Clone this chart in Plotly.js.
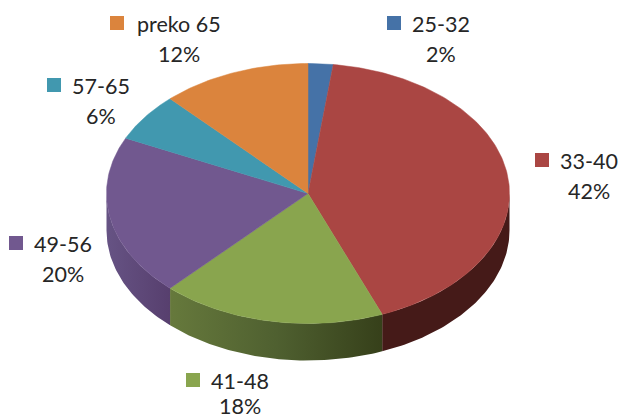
<!DOCTYPE html>
<html>
<head>
<meta charset="utf-8">
<script src="https://cdn.plot.ly/plotly-3.0.1.min.js"></script>
<style>html,body{margin:0;padding:0;background:#fff}#chart{width:620px;height:420px}</style>
</head>
<body>
<div id="chart"></div>
<script>
// Data
const categories = ['25-32', '33-40', '41-48', '49-56', '57-65', 'preko 65'];
const shares = [2, 42, 18, 20, 6, 12];

// Styles
const topColors = ['#4572a7', '#aa4643', '#89a54e', '#71588f', '#4198af', '#db843d'];
const wallScales = [
  null,
  [[0, '#451a18'], [1, '#451a18']],
  [[0, '#66793c'], [0.5, '#4f6030'], [1, '#36401a']],
  [[0, '#665384'], [1, '#573f6e']],
  null, null
];
const textColor = '#262626';
const W = 620, H = 420, CX = 308, CY = 193.5, RX = 201.5, RY = 130, DEPTH = 37;
// [text centre x, first-line y, swatch left x, line gap]
const labelPlaces = [
  [441, 24, 387, 30], [589, 161, 535, 30], [240, 381, 186, 25],
  [63, 244, 9, 30], [101, 86, 47, 30], [179, 24, 110, 30]
];

// Slices are measured clockwise from 12 o'clock in a unit-circle data space
const total = shares.reduce((a, b) => a + b, 0);
const rad = d => d * Math.PI / 180;
function arc(from, to) {
  const pts = [];
  const n = Math.max(2, Math.ceil(Math.abs(to - from)));
  for (let i = 0; i <= n; i++) {
    const a = rad(from + (to - from) * i / n);
    pts.push([Math.sin(a), Math.cos(a)]);
  }
  return pts;
}
const depthUnits = DEPTH / RY;
const walls = [], tops = [];
let cum = 0;
shares.forEach((v, i) => {
  const a0 = cum / total * 360;
  cum += v;
  const a1 = cum / total * 360;
  const top = [[0, 0]].concat(arc(a0, a1), [[0, 0]]);
  tops.push({
    type: 'scatter', mode: 'lines', name: categories[i],
    x: top.map(p => p[0]), y: top.map(p => p[1]),
    fill: 'toself', fillcolor: topColors[i],
    line: {color: topColors[i], width: 0.5},
    hoverinfo: 'skip', showlegend: false
  });
  const w0 = Math.max(a0, 90), w1 = Math.min(a1, 270);
  if (w1 > w0 && wallScales[i]) {
    const upper = arc(w0, w1);
    const lower = upper.slice().reverse().map(p => [p[0], p[1] - depthUnits]);
    const ring = upper.concat(lower, [upper[0]]);
    walls.push({
      type: 'scatter', mode: 'lines', name: categories[i] + ' side',
      x: ring.map(p => p[0]), y: ring.map(p => p[1]),
      fill: 'toself',
      fillgradient: {type: 'horizontal', colorscale: wallScales[i]},
      line: {color: wallScales[i][wallScales[i].length - 1][1], width: 0},
      hoverinfo: 'skip', showlegend: false
    });
  }
});

// Text and swatches
const annotations = [], shapes = [];
categories.forEach((c, i) => {
  const [tx, ty, sx, gap] = labelPlaces[i];
  const note = (text, y) => annotations.push({
    xref: 'paper', yref: 'paper', x: tx / W, y: 1 - y / H,
    xanchor: 'center', yanchor: 'middle', showarrow: false, text: text,
    font: {family: 'Lato, sans-serif', size: 21.5, color: textColor}
  });
  note(c, ty);
  note(shares[i] + '%', ty + gap);
  shapes.push({
    type: 'rect', xref: 'paper', yref: 'paper', layer: 'above',
    x0: sx / W, x1: (sx + 14) / W,
    y0: 1 - (ty - 8 + 14) / H, y1: 1 - (ty - 8) / H,
    fillcolor: topColors[i], line: {width: 0}
  });
});

const hidden = {visible: false, fixedrange: true};
Plotly.newPlot('chart', walls.concat(tops), {
  width: W, height: H,
  margin: {l: 0, r: 0, t: 0, b: 0, pad: 0},
  paper_bgcolor: '#ffffff', plot_bgcolor: '#ffffff',
  showlegend: false,
  xaxis: Object.assign({range: [-CX / RX, (W - CX) / RX]}, hidden),
  yaxis: Object.assign({range: [(CY - H) / RY, CY / RY]}, hidden),
  annotations: annotations, shapes: shapes
}, {displayModeBar: false, staticPlot: true});
</script>
</body>
</html>
